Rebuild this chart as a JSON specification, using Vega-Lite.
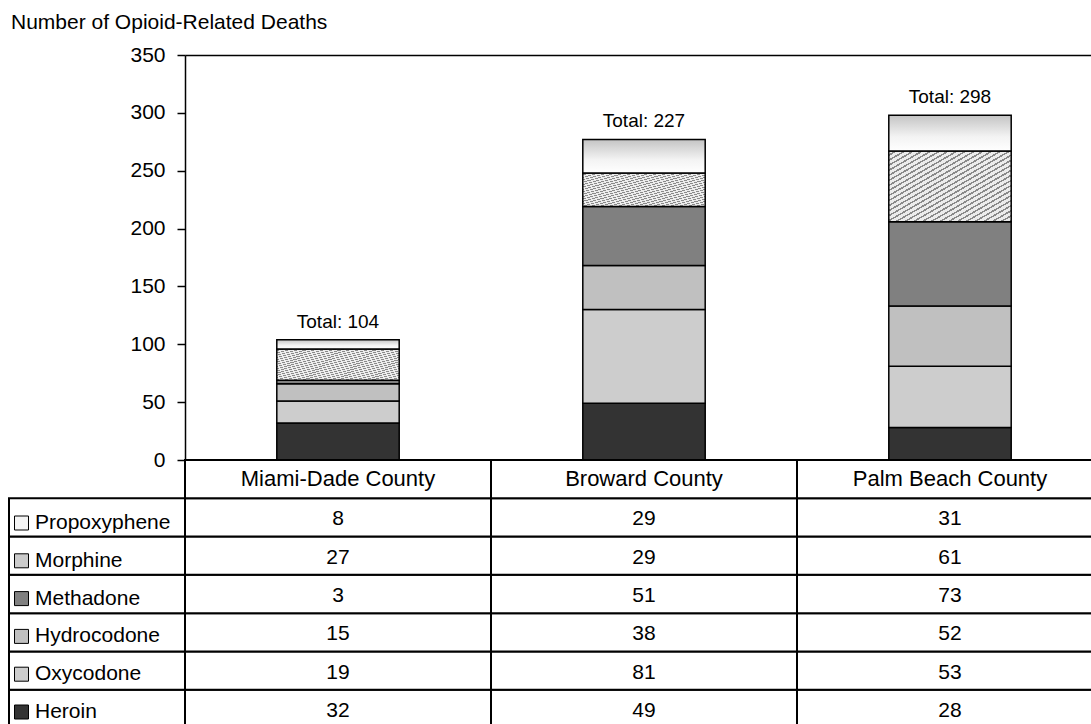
{
  "$schema": "https://vega.github.io/schema/vega-lite/v6.json",
  "padding": {"left": 8, "top": 12, "right": 0, "bottom": 0},
  "background": "white",
  "title": {
    "text": "Number of Opioid-Related Deaths",
    "anchor": "start",
    "fontSize": 21,
    "fontWeight": "normal",
    "color": "black",
    "dx": 3,
    "offset": 11
  },
  "config": {
    "font": "Liberation Sans",
    "view": {"stroke": null},
    "legend": {"labelFont": "Liberation Sans"}
  },
  "columns": 2,
  "spacing": 0,
  "bounds": "flush",
  "resolve": {
    "scale": {"x": "independent", "y": "independent", "color": "shared"},
    "legend": {"color": "shared"}
  },
  "datasets": {
    "deaths": [
      {"county": "Miami-Dade County", "drug": "Heroin", "deaths": 32},
      {"county": "Miami-Dade County", "drug": "Oxycodone", "deaths": 19},
      {"county": "Miami-Dade County", "drug": "Hydrocodone", "deaths": 15},
      {"county": "Miami-Dade County", "drug": "Methadone", "deaths": 3},
      {"county": "Miami-Dade County", "drug": "Morphine", "deaths": 27},
      {"county": "Miami-Dade County", "drug": "Propoxyphene", "deaths": 8},
      {"county": "Broward County", "drug": "Heroin", "deaths": 49},
      {"county": "Broward County", "drug": "Oxycodone", "deaths": 81},
      {"county": "Broward County", "drug": "Hydrocodone", "deaths": 38},
      {"county": "Broward County", "drug": "Methadone", "deaths": 51},
      {"county": "Broward County", "drug": "Morphine", "deaths": 29},
      {"county": "Broward County", "drug": "Propoxyphene", "deaths": 29},
      {"county": "Palm Beach County", "drug": "Heroin", "deaths": 28},
      {"county": "Palm Beach County", "drug": "Oxycodone", "deaths": 53},
      {"county": "Palm Beach County", "drug": "Hydrocodone", "deaths": 52},
      {"county": "Palm Beach County", "drug": "Methadone", "deaths": 73},
      {"county": "Palm Beach County", "drug": "Morphine", "deaths": 61},
      {"county": "Palm Beach County", "drug": "Propoxyphene", "deaths": 31}
    ],
    "totals": [
      {"county": "Miami-Dade County", "label": "Total: 104"},
      {"county": "Broward County", "label": "Total: 227"},
      {"county": "Palm Beach County", "label": "Total: 298"}
    ]
  },
  "concat": [
    {
      "width": 176,
      "height": 405,
      "data": {"values": []},
      "mark": "point",
      "encoding": {}
    },
    {
      "width": 918,
      "height": 405,
      "data": {"name": "deaths"},
      "encoding": {
        "x": {
          "field": "county",
          "type": "nominal",
          "sort": ["Miami-Dade County", "Broward County", "Palm Beach County"],
          "scale": {"paddingInner": 0.6, "paddingOuter": 0.3},
          "axis": {
            "orient": "top",
            "title": null,
            "labels": false,
            "ticks": false,
            "domain": true,
            "domainColor": "black",
            "domainWidth": 1.5
          }
        }
      },
      "layer": [
        {
          "transform": [
            {"calculate": "indexof(['Heroin', 'Oxycodone', 'Hydrocodone', 'Methadone', 'Morphine', 'Propoxyphene'], datum.drug)", "as": "stack_rank"}
          ],
          "mark": {"type": "bar", "stroke": "black", "strokeWidth": 1.5},
          "encoding": {
            "y": {
              "field": "deaths",
              "type": "quantitative",
              "stack": "zero",
              "scale": {"domain": [0, 350], "nice": false},
              "axis": {
                "title": null,
                "values": [0, 50, 100, 150, 200, 250, 300, 350],
                "grid": false,
                "domainColor": "black",
                "domainWidth": 1.5,
                "tickColor": "black",
                "tickSize": 8,
                "tickWidth": 1.5,
                "labelColor": "black",
                "labelFontSize": 21,
                "labelPadding": 12
              }
            },
            "order": {"field": "stack_rank", "type": "quantitative", "sort": "ascending"},
            "color": {
              "condition": [
                {
                  "test": "datum.drug === 'Propoxyphene'",
                  "value": {
                    "gradient": "linear",
                    "x1": 0, "y1": 0, "x2": 0, "y2": 1,
                    "stops": [
                      {"offset": 0, "color": "#c4c4c4"},
                      {"offset": 0.6, "color": "#f3f3f3"},
                      {"offset": 1, "color": "#ffffff"}
                    ]
                  }
                },
                {
                  "test": "datum.drug === 'Morphine'",
                  "value": {
                    "gradient": "linear",
                    "x1": 0, "y1": 0, "x2": 1, "y2": 1,
                    "stops": [
                      {"offset": 0, "color": "#ececec"}, {"offset": 0.0232, "color": "#ececec"}, {"offset": 0.0232, "color": "#8a8a8a"}, {"offset": 0.0357, "color": "#8a8a8a"},
                      {"offset": 0.0357, "color": "#ececec"}, {"offset": 0.0589, "color": "#ececec"}, {"offset": 0.0589, "color": "#8a8a8a"}, {"offset": 0.0714, "color": "#8a8a8a"},
                      {"offset": 0.0714, "color": "#ececec"}, {"offset": 0.0946, "color": "#ececec"}, {"offset": 0.0946, "color": "#8a8a8a"}, {"offset": 0.1071, "color": "#8a8a8a"},
                      {"offset": 0.1071, "color": "#ececec"}, {"offset": 0.1303, "color": "#ececec"}, {"offset": 0.1303, "color": "#8a8a8a"}, {"offset": 0.1429, "color": "#8a8a8a"},
                      {"offset": 0.1429, "color": "#ececec"}, {"offset": 0.1661, "color": "#ececec"}, {"offset": 0.1661, "color": "#8a8a8a"}, {"offset": 0.1786, "color": "#8a8a8a"},
                      {"offset": 0.1786, "color": "#ececec"}, {"offset": 0.2018, "color": "#ececec"}, {"offset": 0.2018, "color": "#8a8a8a"}, {"offset": 0.2143, "color": "#8a8a8a"},
                      {"offset": 0.2143, "color": "#ececec"}, {"offset": 0.2375, "color": "#ececec"}, {"offset": 0.2375, "color": "#8a8a8a"}, {"offset": 0.25, "color": "#8a8a8a"},
                      {"offset": 0.25, "color": "#ececec"}, {"offset": 0.2732, "color": "#ececec"}, {"offset": 0.2732, "color": "#8a8a8a"}, {"offset": 0.2857, "color": "#8a8a8a"},
                      {"offset": 0.2857, "color": "#ececec"}, {"offset": 0.3089, "color": "#ececec"}, {"offset": 0.3089, "color": "#8a8a8a"}, {"offset": 0.3214, "color": "#8a8a8a"},
                      {"offset": 0.3214, "color": "#ececec"}, {"offset": 0.3446, "color": "#ececec"}, {"offset": 0.3446, "color": "#8a8a8a"}, {"offset": 0.3571, "color": "#8a8a8a"},
                      {"offset": 0.3571, "color": "#ececec"}, {"offset": 0.3803, "color": "#ececec"}, {"offset": 0.3803, "color": "#8a8a8a"}, {"offset": 0.3929, "color": "#8a8a8a"},
                      {"offset": 0.3929, "color": "#ececec"}, {"offset": 0.4161, "color": "#ececec"}, {"offset": 0.4161, "color": "#8a8a8a"}, {"offset": 0.4286, "color": "#8a8a8a"},
                      {"offset": 0.4286, "color": "#ececec"}, {"offset": 0.4518, "color": "#ececec"}, {"offset": 0.4518, "color": "#8a8a8a"}, {"offset": 0.4643, "color": "#8a8a8a"},
                      {"offset": 0.4643, "color": "#ececec"}, {"offset": 0.4875, "color": "#ececec"}, {"offset": 0.4875, "color": "#8a8a8a"}, {"offset": 0.5, "color": "#8a8a8a"},
                      {"offset": 0.5, "color": "#ececec"}, {"offset": 0.5232, "color": "#ececec"}, {"offset": 0.5232, "color": "#8a8a8a"}, {"offset": 0.5357, "color": "#8a8a8a"},
                      {"offset": 0.5357, "color": "#ececec"}, {"offset": 0.5589, "color": "#ececec"}, {"offset": 0.5589, "color": "#8a8a8a"}, {"offset": 0.5714, "color": "#8a8a8a"},
                      {"offset": 0.5714, "color": "#ececec"}, {"offset": 0.5946, "color": "#ececec"}, {"offset": 0.5946, "color": "#8a8a8a"}, {"offset": 0.6071, "color": "#8a8a8a"},
                      {"offset": 0.6071, "color": "#ececec"}, {"offset": 0.6303, "color": "#ececec"}, {"offset": 0.6303, "color": "#8a8a8a"}, {"offset": 0.6429, "color": "#8a8a8a"},
                      {"offset": 0.6429, "color": "#ececec"}, {"offset": 0.6661, "color": "#ececec"}, {"offset": 0.6661, "color": "#8a8a8a"}, {"offset": 0.6786, "color": "#8a8a8a"},
                      {"offset": 0.6786, "color": "#ececec"}, {"offset": 0.7018, "color": "#ececec"}, {"offset": 0.7018, "color": "#8a8a8a"}, {"offset": 0.7143, "color": "#8a8a8a"},
                      {"offset": 0.7143, "color": "#ececec"}, {"offset": 0.7375, "color": "#ececec"}, {"offset": 0.7375, "color": "#8a8a8a"}, {"offset": 0.75, "color": "#8a8a8a"},
                      {"offset": 0.75, "color": "#ececec"}, {"offset": 0.7732, "color": "#ececec"}, {"offset": 0.7732, "color": "#8a8a8a"}, {"offset": 0.7857, "color": "#8a8a8a"},
                      {"offset": 0.7857, "color": "#ececec"}, {"offset": 0.8089, "color": "#ececec"}, {"offset": 0.8089, "color": "#8a8a8a"}, {"offset": 0.8214, "color": "#8a8a8a"},
                      {"offset": 0.8214, "color": "#ececec"}, {"offset": 0.8446, "color": "#ececec"}, {"offset": 0.8446, "color": "#8a8a8a"}, {"offset": 0.8571, "color": "#8a8a8a"},
                      {"offset": 0.8571, "color": "#ececec"}, {"offset": 0.8803, "color": "#ececec"}, {"offset": 0.8803, "color": "#8a8a8a"}, {"offset": 0.8929, "color": "#8a8a8a"},
                      {"offset": 0.8929, "color": "#ececec"}, {"offset": 0.9161, "color": "#ececec"}, {"offset": 0.9161, "color": "#8a8a8a"}, {"offset": 0.9286, "color": "#8a8a8a"},
                      {"offset": 0.9286, "color": "#ececec"}, {"offset": 0.9518, "color": "#ececec"}, {"offset": 0.9518, "color": "#8a8a8a"}, {"offset": 0.9643, "color": "#8a8a8a"},
                      {"offset": 0.9643, "color": "#ececec"}, {"offset": 0.9875, "color": "#ececec"}, {"offset": 0.9875, "color": "#8a8a8a"}, {"offset": 1, "color": "#8a8a8a"}
                    ]
                  }
                }
              ],
              "field": "drug",
              "type": "nominal",
              "scale": {
                "domain": ["Heroin", "Oxycodone", "Hydrocodone", "Methadone", "Morphine", "Propoxyphene"],
                "range": ["#333333", "#cdcdcd", "#c0c0c0", "#808080", "#cbcbcb", "#f4f4f4"]
              },
              "legend": {
                "orient": "none",
                "legendX": 2,
                "legendY": 457.5,
                "title": null,
                "values": ["Propoxyphene", "Morphine", "Methadone", "Hydrocodone", "Oxycodone", "Heroin"],
                "symbolType": "square",
                "symbolSize": 196,
                "symbolStrokeColor": "black",
                "symbolStrokeWidth": 1,
                "symbolOpacity": 1,
                "labelFontSize": 21,
                "labelColor": "black",
                "labelOffset": 3,
                "rowPadding": 15.8,
                "padding": 0
              }
            }
          }
        },
        {
          "transform": [
            {"aggregate": [{"op": "sum", "field": "deaths", "as": "stack_top"}], "groupby": ["county"]},
            {"lookup": "county", "from": {"data": {"name": "totals"}, "key": "county", "fields": ["label"]}}
          ],
          "mark": {"type": "text", "baseline": "alphabetic", "dy": -12, "fontSize": 19, "color": "black"},
          "encoding": {
            "y": {"field": "stack_top", "type": "quantitative"},
            "text": {"field": "label"}
          }
        }
      ]
    },
    {
      "width": 176,
      "height": 268,
      "data": {"name": "deaths"},
      "transform": [{"aggregate": [{"op": "count", "as": "n"}], "groupby": ["drug"]}],
      "mark": {"type": "rect", "fill": "white", "stroke": "black", "strokeWidth": 2},
      "encoding": {
        "y": {
          "field": "drug",
          "type": "nominal",
          "scale": {
            "domain": ["County", "Propoxyphene", "Morphine", "Methadone", "Hydrocodone", "Oxycodone", "Heroin"],
            "paddingInner": 0,
            "paddingOuter": 0
          },
          "axis": null
        }
      }
    },
    {
      "width": 918,
      "height": 268,
      "data": {"name": "deaths"},
      "encoding": {
        "x": {
          "field": "county",
          "type": "nominal",
          "sort": ["Miami-Dade County", "Broward County", "Palm Beach County"],
          "scale": {"paddingInner": 0, "paddingOuter": 0},
          "axis": null
        }
      },
      "layer": [
        {
          "mark": {"type": "rect", "fill": "white", "stroke": "black", "strokeWidth": 2},
          "encoding": {
            "y": {
              "field": "drug",
              "type": "nominal",
              "scale": {
                "domain": ["County", "Propoxyphene", "Morphine", "Methadone", "Hydrocodone", "Oxycodone", "Heroin"],
                "paddingInner": 0,
                "paddingOuter": 0
              },
              "axis": null
            }
          }
        },
        {
          "mark": {"type": "text", "fontSize": 21, "dy": 2, "color": "black"},
          "encoding": {
            "y": {"field": "drug", "type": "nominal"},
            "text": {"field": "deaths"}
          }
        },
        {
          "transform": [{"aggregate": [{"op": "count", "as": "n"}], "groupby": ["county"]}],
          "layer": [
            {
              "mark": {"type": "rect", "fill": "white", "stroke": "black", "strokeWidth": 2},
              "encoding": {"y": {"datum": "County"}}
            },
            {
              "mark": {"type": "text", "fontSize": 22, "color": "black"},
              "encoding": {"y": {"datum": "County"}, "text": {"field": "county"}}
            }
          ]
        }
      ]
    }
  ]
}
